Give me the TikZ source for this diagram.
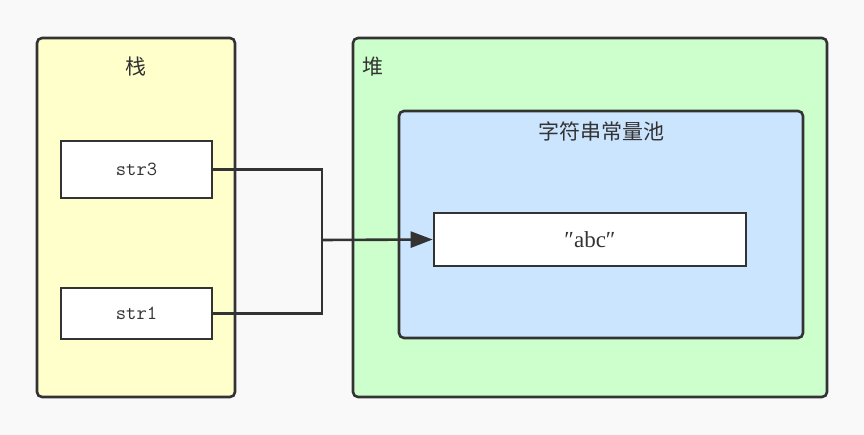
\documentclass[tikz,border=0pt]{standalone}
\usepackage{fontspec}
\newfontfamily\cjk{Noto Sans CJK SC}
\newfontfamily\serifabc{Liberation Serif}
\usetikzlibrary{arrows.meta}
\definecolor{bg}{HTML}{F9F9F9}
\definecolor{edge}{HTML}{333333}
\definecolor{stackfill}{HTML}{FFFFCC}
\definecolor{heapfill}{HTML}{CCFFCC}
\definecolor{poolfill}{HTML}{CCE5FF}
\tikzset{
  px/.style={x=1pt,y=-1pt},
  region/.style={draw=edge,line width=2.6pt,rounded corners=5pt},
  cell/.style={draw=edge,line width=2.6pt,fill=white,minimum height=0pt,inner sep=0pt},
  link/.style={draw=edge,line width=2.6pt},
  lbl/.style={text=edge,font=\cjk\fontsize{21}{24}\selectfont},
  monotext/.style={text=edge,font=\ttfamily\fontsize{20}{22}\selectfont},
}
\begin{document}
\begin{tikzpicture}[px]
\fill[bg] (0,0) rectangle (864,435);
\useasboundingbox (0,0) rectangle (864,435);
% regions
\draw[region,fill=stackfill] (37,38) rectangle (235,397);
\draw[region,fill=heapfill] (353,38) rectangle (827,397);
\draw[region,fill=poolfill] (399,111) rectangle (803,338);
\node[lbl] (stacklbl) at (136,67) {栈};
\node[lbl] (heaplbl) at (373,67) {堆};
\node[lbl] (poollbl) at (601,131) {字符串常量池};
% cells
\node[cell,monotext,minimum width=151pt,minimum height=57pt] (str3) at (136.5,169.5) {str3};
\node[cell,monotext,minimum width=151pt,minimum height=51pt] (str1) at (136.5,313.5) {str1};
\node[cell,minimum width=312pt,minimum height=53pt,font=\serifabc\fontsize{23}{25}\selectfont,text=edge] (abc) at (590,239.5) {″abc″};
% connectors
\coordinate (join) at (322,240);
\draw[link] (str3.east) -| (join);
\draw[link] (str1.east) -| (join);
\draw[link,-{Triangle[length=22pt,width=16pt]}] (join) -- (abc.west);
\end{tikzpicture}
\end{document}
